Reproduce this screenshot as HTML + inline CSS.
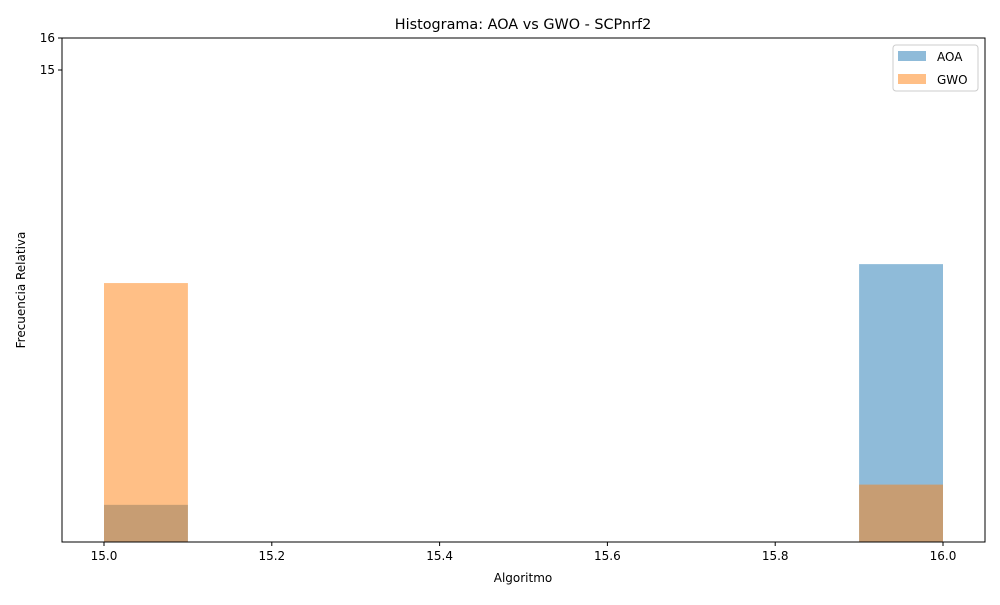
<!DOCTYPE html>
<html><head><meta charset="utf-8"><style>
body{margin:0;background:#fff;font-family:"Liberation Sans","DejaVu Sans",sans-serif}
text{font-family:"DejaVu Sans","Liberation Sans",sans-serif}
</style></head><body>
<svg id="c" width="1000" height="600" viewBox="0 0 1000 600"></svg>
<script>
const seriesNames=["AOA","GWO"];
const binStarts=[15.0,15.9];
const aoaValues=[6.24,10.14];
const gwoValues=[9.76,6.5];
const xTicks=[15.0,15.2,15.4,15.6,15.8,16.0];
const yTicks=[15,16];
const binWidth=0.1;
const colors=["#1f77b4","#ff7f0e"];
const L=62,R=985,T=38,B=542;
const x=v=>104+(v-15)*839;
const y=v=>T+(Math.log10(16)-Math.log10(v))*1141.6;
const svg=document.getElementById('c');
const NS='http://www.w3.org/2000/svg';
function el(t,a,p){const e=document.createElementNS(NS,t);for(const k in a)e.setAttribute(k,a[k]);(p||svg).appendChild(e);return e;}
[aoaValues,gwoValues].forEach((vals,si)=>{
  vals.forEach((v,i)=>{
    const r=el('rect',{x:x(binStarts[i]),y:y(v),width:x(binStarts[i]+binWidth)-x(binStarts[i]),height:B-y(v),fill:colors[si],'fill-opacity':0.5});
    
    
  });
});
const frame=el('rect',{x:L,y:T,width:R-L,height:B-T,fill:'none',stroke:'#000','stroke-width':1});

xTicks.forEach(v=>{
  el('line',{x1:x(v),x2:x(v),y1:B,y2:B+4,stroke:'#000'});
  const t=el('text',{x:x(v),y:B+18,'text-anchor':'middle','font-size':12});t.textContent=v.toFixed(1);
  
});
yTicks.forEach(v=>{
  el('line',{x1:L-4,x2:L,y1:y(v),y2:y(v),stroke:'#000'});
  const t=el('text',{x:L-7,y:y(v)+4,'text-anchor':'end','font-size':12});t.textContent=v;
  
});
let t=el('text',{x:523,y:29,'text-anchor':'middle','font-size':14.4});t.textContent='Histograma: AOA vs GWO - SCPnrf2';

t=el('text',{x:523,y:582,'text-anchor':'middle','font-size':12});t.textContent='Algoritmo';

t=el('text',{x:0,y:0,'text-anchor':'middle','font-size':12,transform:'translate(25,290) rotate(-90)'});t.textContent='Frecuencia Relativa';

const lg=el('g',{});
el('rect',{x:893,y:45,width:85,height:46,fill:'#fff',stroke:'#ccc',rx:3},lg);
seriesNames.forEach((n,i)=>{
  const g=el('g',{},lg);
  el('rect',{x:898,y:51+i*23,width:28,height:10,fill:colors[i],'fill-opacity':0.5},g);
  const tt=el('text',{x:937,y:61+i*23,'font-size':12},g);tt.textContent=n;
});
</script>
</body></html>
